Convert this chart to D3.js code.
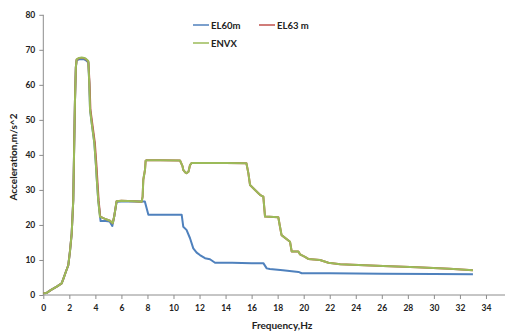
<!DOCTYPE html>
<html><head><meta charset="utf-8">
<script src="https://cdn.jsdelivr.net/npm/d3@7"></script>
<style>body{margin:0;background:#fff}svg{display:block}text{font-family:Lato,"Open Sans",sans-serif;font-weight:bold;fill:#222}</style>
</head><body><svg id="c" width="505" height="333"></svg>
<script>
const xTicks=[0,2,4,6,8,10,12,14,16,18,20,22,24,26,28,30,32,34];
const yTicks=[0,10,20,30,40,50,60,70,80];
const seriesNames=["EL60m","EL63 m","ENVX"];
const colors=["#4F81BD","#C0504D","#9BBB59"];
// ENVX (envelope)
const envxF=[0,0.26,0.57,1.03,1.41,1.54,1.74,1.92,2.05,2.18,2.3,2.36,2.43,2.5,2.56,2.75,2.95,3.15,3.28,3.4,3.46,3.53,3.59,3.72,3.92,4.05,4.1,4.22,4.35,4.7,5.12,5.33,5.45,5.63,6.0,7.0,7.55,7.63,7.68,7.81,7.86,7.94,9.0,10.5,10.7,10.75,10.9,11.0,11.15,11.27,11.4,12.5,14.0,15.6,15.75,15.88,16.13,16.64,16.9,17.03,18.05,18.18,18.3,18.95,19.08,19.59,19.72,20.1,20.35,21.25,21.9,22.8,26.1,28.7,31.2,33.0];
const envxA=[0.5,0.6,1.4,2.4,3.3,4.6,6.7,8.5,12.5,17.5,27,40,55,65,67.3,67.7,67.8,67.7,67.4,67.0,66.7,60.5,52.9,49,43.4,36.7,33.5,27,22.4,21.8,21.2,20.5,22.5,26.8,26.9,26.8,26.6,28.1,32.9,35.7,38.3,38.5,38.5,38.4,36.7,35.7,35.0,34.8,35.2,37.1,37.7,37.7,37.7,37.6,34.8,31.4,30.5,28.6,28.1,22.4,22.2,19.5,17.1,15.2,12.4,12.4,11.6,10.9,10.3,10.0,9.2,8.8,8.3,7.9,7.5,7.1];
// EL63 m
const el63F=[0,0.26,0.57,1.03,1.41,1.54,1.74,1.92,2.05,2.18,2.3,2.36,2.43,2.5,2.56,2.75,2.95,3.15,3.28,3.4,3.46,3.55,3.62,3.76,3.96,4.09,4.14,4.25,4.37,4.7,5.12,5.33,5.45,5.63,6.0,7.0,7.55,7.63,7.68,7.81,7.86,7.94,9.0,10.5,10.7,10.75,10.9,11.0,11.15,11.27,11.4,12.5,14.0,15.6,15.75,15.88,16.13,16.64,16.9,17.03,18.05,18.18,18.3,18.95,19.08,19.59,19.72,20.1,20.35,21.25,21.9,22.8,26.1,28.7,31.2,33.0];
const el63A=[0.5,0.6,1.4,2.4,3.3,4.6,6.7,8.5,12.5,17.5,27,40,55,65,67.2,67.6,67.7,67.6,67.3,66.9,66.6,60.5,52.9,49,43.4,36.7,33.5,27,22.4,21.8,21.2,20.5,22.5,26.8,26.9,26.8,26.6,28.1,32.9,35.7,38.3,38.5,38.5,38.4,36.7,35.7,35.0,34.8,35.2,37.1,37.7,37.7,37.7,37.6,34.8,31.4,30.5,28.6,28.1,22.4,22.2,19.5,17.1,15.2,12.4,12.4,11.6,10.9,10.3,10.0,9.2,8.8,8.3,7.9,7.5,7.1];
// EL60m
const el60F=[0,0.26,0.57,1.03,1.41,1.54,1.74,1.92,2.05,2.18,2.3,2.36,2.43,2.5,2.56,2.75,2.95,3.15,3.28,3.4,3.46,3.53,3.59,3.72,3.92,4.05,4.1,4.22,4.4,4.8,5.1,5.3,5.45,5.63,6.0,7.0,7.8,8.07,9.0,10.63,10.75,11.0,11.27,11.52,11.78,12.03,12.42,12.8,13.19,14.5,16.0,16.9,17.16,17.4,18.4,19.6,19.85,22,26,30,33.0];
const el60A=[0.5,0.6,1.4,2.4,3.3,4.6,6.7,8.5,12.5,17.5,27,40,55,65,67.0,67.3,67.4,67.3,67.0,66.6,66.3,60.5,52.9,49,43.4,36.7,33.5,27,21.1,21.1,21.0,19.7,22.5,26.6,26.7,26.7,26.7,22.9,22.9,22.9,19.5,18.6,16.2,13.3,12.1,11.4,10.5,10.2,9.2,9.2,9.1,9.1,7.6,7.4,7.1,6.6,6.2,6.2,6.1,6.0,5.9];

const svg=d3.select("#c");
const x=d3.scaleLinear().domain([0,36]).range([43.3,512]);
const y=d3.scaleLinear().domain([0,80]).range([295,14.8]);
const axisColor="#8c8c8c";

// y axis
const ya=svg.append("g").attr("transform","translate(43.3,0)").call(d3.axisLeft(y).tickValues(yTicks).tickSize(4).tickPadding(4));
ya.select(".domain").attr("stroke",axisColor).attr("d","M0,"+y(80)+"V"+y(0));
ya.selectAll(".tick line").attr("stroke",axisColor);
ya.selectAll(".tick text").style("font-size","8.5px").style("font-family","Lato").style("font-weight","bold").attr("fill","#222");
// x axis
const xa=svg.append("g").attr("transform","translate(0,295)").call(d3.axisBottom(x).tickValues(xTicks).tickSize(4).tickPadding(6));
xa.select(".domain").attr("stroke",axisColor).attr("d","M"+x(0)+",0H505");
xa.selectAll(".tick line").attr("stroke",axisColor);
xa.selectAll(".tick text").style("font-size","8.5px").style("font-family","Lato").style("font-weight","bold").attr("fill","#222");

const line=d3.line().x(d=>x(d[0])).y(d=>y(d[1]));
const data=[d3.zip(el60F,el60A),d3.zip(el63F,el63A),d3.zip(envxF,envxA)];
data.forEach((d,i)=>{
  svg.append("path").datum(d).attr("d",line).attr("fill","none").attr("stroke",colors[i]).attr("stroke-width",2).attr("stroke-linejoin","round");
});

// axis titles
svg.append("text").attr("transform","translate(17,157) rotate(-90)").attr("text-anchor","middle").style("font-size","10px").text("Acceleration,m/s^2");
svg.append("text").attr("x",282).attr("y",329).attr("text-anchor","middle").style("font-size","10px").text("Frequency,Hz");

// legend
const leg=[{n:seriesNames[0],c:colors[0],x:193,y:25},{n:seriesNames[1],c:colors[1],x:259,y:25},{n:seriesNames[2],c:colors[2],x:193,y:43}];
leg.forEach(l=>{
  svg.append("line").attr("x1",l.x).attr("x2",l.x+16).attr("y1",l.y).attr("y2",l.y).attr("stroke",l.c).attr("stroke-width",1.5);
  svg.append("text").attr("x",l.x+18).attr("y",l.y+3.5).style("font-size","9.5px").text(l.n);
});
</script></body></html>
